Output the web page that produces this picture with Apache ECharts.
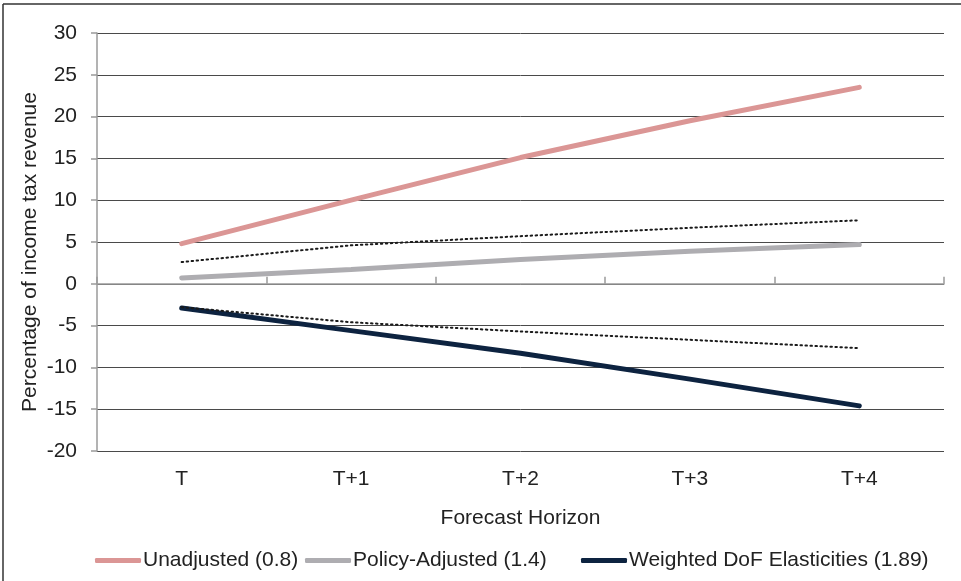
<!DOCTYPE html>
<html>
<head>
<meta charset="utf-8">
<script src="https://cdn.jsdelivr.net/npm/echarts@6/dist/echarts.min.js"></script>
<style>
html,body{margin:0;padding:0;background:#fff;}
#c{width:961px;height:581px;}
</style>
</head>
<body>
<div id="c"></div>
<script>
var categories = ['T', 'T+1', 'T+2', 'T+3', 'T+4'];
var unadjusted = [4.8, 10.0, 15.1, 19.5, 23.5];
var policyAdjusted = [0.7, 1.7, 2.9, 3.9, 4.7];
var weightedDoF = [-2.9, -5.6, -8.3, -11.4, -14.6];
var upperBand = [2.6, 4.6, 5.7, 6.7, 7.6];
var lowerBand = [-2.8, -4.6, -5.7, -6.7, -7.7];
var seriesNames = ['Unadjusted (0.8)', 'Policy-Adjusted (1.4)', 'Weighted DoF Elasticities (1.89)'];
var yTicks = { min: -20, max: 30, interval: 5 };

var FONT = '"Liberation Sans", Arial, Helvetica, sans-serif';
var TXT = '#222';
var FS = 21;

function legendFor(name, left) {
  return {
    data: [name], left: left, top: 545,
    itemWidth: 46, itemHeight: 5, itemGap: 7,
    icon: 'roundRect',
    textStyle: { fontFamily: FONT, fontSize: FS, color: TXT, padding: [0, 0, 0, -3] }
  };
}

var chart = echarts.init(document.getElementById('c'));
chart.setOption({
  animation: false,
  backgroundColor: '#fff',
  textStyle: { fontFamily: FONT },
  graphic: [
    { type: 'line', shape: { x1: 3, y1: 4, x2: 961, y2: 4 }, style: { stroke: '#333', lineWidth: 1.5 } },
    { type: 'line', shape: { x1: 3, y1: 4, x2: 3, y2: 581 }, style: { stroke: '#333', lineWidth: 1.5 } }
  ],
  grid: { left: 97, right: 17, top: 33, bottom: 130, containLabel: false },
  legend: [
    legendFor(seriesNames[0], 90),
    legendFor(seriesNames[1], 300),
    legendFor(seriesNames[2], 576)
  ],
  xAxis: [
    {
      type: 'category', data: categories, position: 'bottom',
      boundaryGap: true,
      axisLine: { show: false, onZero: false },
      axisTick: { show: false },
      axisLabel: { fontFamily: FONT, fontSize: FS, color: TXT, margin: 18 },
      name: 'Forecast Horizon', nameLocation: 'middle', nameGap: 57,
      nameTextStyle: { fontFamily: FONT, fontSize: FS, color: TXT }
    },
    {
      type: 'category', data: categories, position: 'top',
      boundaryGap: true,
      axisLine: { show: true, onZero: true, lineStyle: { color: '#9a9a9a', width: 1.5 } },
      axisTick: { show: true, inside: true, length: -7, alignWithLabel: false, lineStyle: { color: '#9a9a9a', width: 1.5 } },
      axisLabel: { show: false }
    }
  ],
  yAxis: {
    type: 'value', min: yTicks.min, max: yTicks.max, interval: yTicks.interval,
    axisLine: { show: true, lineStyle: { color: '#9a9a9a', width: 1.5 } },
    axisTick: { show: true, length: 6, lineStyle: { color: '#9a9a9a', width: 1.5 } },
    axisLabel: { fontFamily: FONT, fontSize: FS, color: TXT, margin: 20 },
    splitLine: { show: true, lineStyle: { color: '#4a4a4a', width: 1 } },
    name: 'Percentage of income tax revenue', nameLocation: 'middle', nameGap: 56,
    nameMoveOverlap: false,
    nameTextStyle: { fontFamily: FONT, fontSize: FS, color: TXT, padding: [0, 20, 0, 0] }
  },
  series: [
    { name: seriesNames[0], type: 'line', data: unadjusted, symbol: 'none', xAxisIndex: 0,
      lineStyle: { color: '#db9695', width: 5, cap: 'round' }, itemStyle: { color: '#db9695' }, z: 3 },
    { name: seriesNames[1], type: 'line', data: policyAdjusted, symbol: 'none', xAxisIndex: 0,
      lineStyle: { color: '#aeadb1', width: 5, cap: 'round' }, itemStyle: { color: '#aeadb1' }, z: 3 },
    { name: seriesNames[2], type: 'line', data: weightedDoF, symbol: 'none', xAxisIndex: 0,
      lineStyle: { color: '#0d2340', width: 5, cap: 'round' }, itemStyle: { color: '#0d2340' }, z: 3 },
    { name: 'Upper', type: 'line', data: upperBand, symbol: 'none', xAxisIndex: 0,
      lineStyle: { color: '#1a1a1a', width: 2, type: [1.5, 3.5], cap: 'round' }, z: 4 },
    { name: 'Lower', type: 'line', data: lowerBand, symbol: 'none', xAxisIndex: 0,
      lineStyle: { color: '#1a1a1a', width: 2, type: [1.5, 3.5], cap: 'round' }, z: 4 }
  ]
});
</script>
</body>
</html>
